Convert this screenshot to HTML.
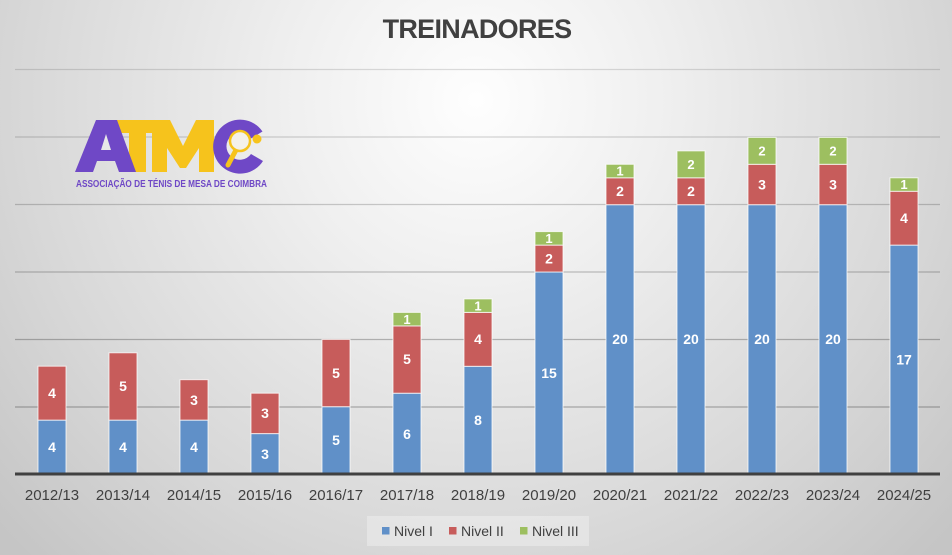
<!DOCTYPE html>
<html>
<head>
<meta charset="utf-8">
<style>
  html, body { margin:0; padding:0; }
  body { width:952px; height:555px; overflow:hidden; }
  svg { display:block; }
  text { font-family: "Liberation Sans", "DejaVu Sans", sans-serif; }
</style>
</head>
<body>
<svg width="952" height="555" viewBox="0 0 952 555" xmlns="http://www.w3.org/2000/svg">
  <defs>
    <radialGradient id="bg" cx="476" cy="100" r="640" gradientUnits="userSpaceOnUse">
      <stop offset="0" stop-color="#fefefe"/>
      <stop offset="0.3" stop-color="#efefef"/>
      <stop offset="0.72" stop-color="#d7d7d7"/>
      <stop offset="1" stop-color="#c5c5c5"/>
    </radialGradient>
  </defs>
  <rect x="0" y="0" width="952" height="555" fill="url(#bg)"/>

  <!-- Title -->
  <text x="477" y="38" text-anchor="middle" font-size="27" font-weight="bold" fill="#404040" letter-spacing="-0.7">TREINADORES</text>

  <!-- Gridlines -->
  <g stroke="#000" stroke-width="1.2">
    <line x1="15" y1="69.5" x2="940" y2="69.5" stroke-opacity="0.13"/>
    <line x1="15" y1="137" x2="940" y2="137" stroke-opacity="0.16"/>
    <line x1="15" y1="204.5" x2="940" y2="204.5" stroke-opacity="0.19"/>
    <line x1="15" y1="272" x2="940" y2="272" stroke-opacity="0.22"/>
    <line x1="15" y1="339.5" x2="940" y2="339.5" stroke-opacity="0.25"/>
    <line x1="15" y1="407" x2="940" y2="407" stroke-opacity="0.27"/>
  </g>

  <!-- Logo -->
  <g>
    <rect x="116" y="120" width="42" height="13" fill="#f6c31c"/>
    <rect x="129" y="120" width="17" height="52" fill="#f6c31c"/>
    <polygon points="152,120 170,120 183,146 196,120 214,120 214,172 199,172 199,148 186,168 180,168 167,148 167,172 152,172" fill="#f6c31c"/>
    <polygon points="96,120 117,120 136,172 119,172 115,161 97,161 93,172 75,172" fill="#6f48c6"/>
    <polygon points="101,150 111,150 106,134" fill="#e8e8e8"/>
    <path d="M 262.5 131.5 A 27 27 0 1 0 263 161 L 251 154 A 13.5 13.5 0 1 1 251 138.5 Z" fill="#6f48c6"/>
    <line x1="236" y1="150" x2="228" y2="165" stroke="#f6c31c" stroke-width="5" stroke-linecap="round"/>
    <circle cx="240" cy="141" r="10" fill="#f4f1ea" stroke="#f6c31c" stroke-width="2.5"/>
    <circle cx="257" cy="139" r="4.5" fill="#f6c31c"/>
    <text x="76" y="187" font-size="10" font-weight="bold" fill="#6f48c6" textLength="191" lengthAdjust="spacingAndGlyphs">ASSOCIAÇÃO DE TÉNIS DE MESA DE COIMBRA</text>
  </g>

  <!-- Bars -->
  <g stroke="#ffffff" stroke-opacity="0.75" stroke-width="1">
    <g fill="#6090c8">
      <rect x="38" y="420.1" width="28" height="53.9"/>
      <rect x="109" y="420.1" width="28" height="53.9"/>
      <rect x="180" y="420.1" width="28" height="53.9"/>
      <rect x="251" y="433.6" width="28" height="40.4"/>
      <rect x="322" y="406.7" width="28" height="67.3"/>
      <rect x="393" y="393.2" width="28" height="80.8"/>
      <rect x="464" y="366.3" width="28" height="107.7"/>
      <rect x="535" y="272" width="28" height="202"/>
      <rect x="606" y="204.7" width="28" height="269.3"/>
      <rect x="677" y="204.7" width="28" height="269.3"/>
      <rect x="748" y="204.7" width="28" height="269.3"/>
      <rect x="819" y="204.7" width="28" height="269.3"/>
      <rect x="890" y="245.1" width="28" height="228.9"/>
    </g>
    <g fill="#c75c5b">
      <rect x="38" y="366.2" width="28" height="53.9"/>
      <rect x="109" y="352.8" width="28" height="67.3"/>
      <rect x="180" y="379.7" width="28" height="40.4"/>
      <rect x="251" y="393.2" width="28" height="40.4"/>
      <rect x="322" y="339.4" width="28" height="67.3"/>
      <rect x="393" y="325.9" width="28" height="67.3"/>
      <rect x="464" y="312.4" width="28" height="53.9"/>
      <rect x="535" y="245.1" width="28" height="26.9"/>
      <rect x="606" y="177.8" width="28" height="26.9"/>
      <rect x="677" y="177.8" width="28" height="26.9"/>
      <rect x="748" y="164.3" width="28" height="40.4"/>
      <rect x="819" y="164.3" width="28" height="40.4"/>
      <rect x="890" y="191.2" width="28" height="53.9"/>
    </g>
    <g fill="#9dbf60">
      <rect x="393" y="312.4" width="28" height="13.5"/>
      <rect x="464" y="298.9" width="28" height="13.5"/>
      <rect x="535" y="231.6" width="28" height="13.5"/>
      <rect x="606" y="164.3" width="28" height="13.5"/>
      <rect x="677" y="150.9" width="28" height="26.9"/>
      <rect x="748" y="137.4" width="28" height="26.9"/>
      <rect x="819" y="137.4" width="28" height="26.9"/>
      <rect x="890" y="177.8" width="28" height="13.5"/>
    </g>
  </g>

  <!-- Data labels -->
  <g fill="#ffffff" font-size="14" font-weight="bold" text-anchor="middle">
    <text x="52" y="452">4</text>
    <text x="123" y="452">4</text>
    <text x="194" y="452">4</text>
    <text x="265" y="459">3</text>
    <text x="336" y="445">5</text>
    <text x="407" y="439">6</text>
    <text x="478" y="425">8</text>
    <text x="549" y="378">15</text>
    <text x="620" y="344">20</text>
    <text x="691" y="344">20</text>
    <text x="762" y="344">20</text>
    <text x="833" y="344">20</text>
    <text x="904" y="364.5">17</text>
    <text x="52" y="398">4</text>
    <text x="123" y="391">5</text>
    <text x="194" y="405">3</text>
    <text x="265" y="418">3</text>
    <text x="336" y="378">5</text>
    <text x="407" y="364">5</text>
    <text x="478" y="344">4</text>
    <text x="549" y="263.5">2</text>
    <text x="620" y="196">2</text>
    <text x="691" y="196">2</text>
    <text x="762" y="189.5">3</text>
    <text x="833" y="189.5">3</text>
    <text x="904" y="223">4</text>
  </g>
  <g fill="#ffffff" font-size="13" font-weight="bold" text-anchor="middle">
    <text x="407" y="323.8">1</text>
    <text x="478" y="310.3">1</text>
    <text x="549" y="243">1</text>
    <text x="620" y="175.7">1</text>
    <text x="691" y="169">2</text>
    <text x="762" y="155.5">2</text>
    <text x="833" y="155.5">2</text>
    <text x="904" y="189.2">1</text>
  </g>

  <!-- Axis line -->
  <line x1="15" y1="474" x2="940" y2="474" stroke="#404040" stroke-width="3"/>

  <!-- X labels -->
  <g fill="#404040" font-size="15" text-anchor="middle">
    <text x="52" y="500">2012/13</text>
    <text x="123" y="500">2013/14</text>
    <text x="194" y="500">2014/15</text>
    <text x="265" y="500">2015/16</text>
    <text x="336" y="500">2016/17</text>
    <text x="407" y="500">2017/18</text>
    <text x="478" y="500">2018/19</text>
    <text x="549" y="500">2019/20</text>
    <text x="620" y="500">2020/21</text>
    <text x="691" y="500">2021/22</text>
    <text x="762" y="500">2022/23</text>
    <text x="833" y="500">2023/24</text>
    <text x="904" y="500">2024/25</text>
  </g>

  <!-- Legend -->
  <rect x="367" y="516" width="222" height="30" fill="#ffffff" fill-opacity="0.3"/>
  <rect x="382" y="527" width="7.5" height="7.5" fill="#6090c8"/>
  <rect x="449" y="527" width="7.5" height="7.5" fill="#c75c5b"/>
  <rect x="520" y="527" width="7.5" height="7.5" fill="#9dbf60"/>
  <g fill="#404040" font-size="14">
    <text x="394" y="536">Nivel I</text>
    <text x="461" y="536">Nivel II</text>
    <text x="532" y="536">Nivel III</text>
  </g>
</svg>
</body>
</html>
